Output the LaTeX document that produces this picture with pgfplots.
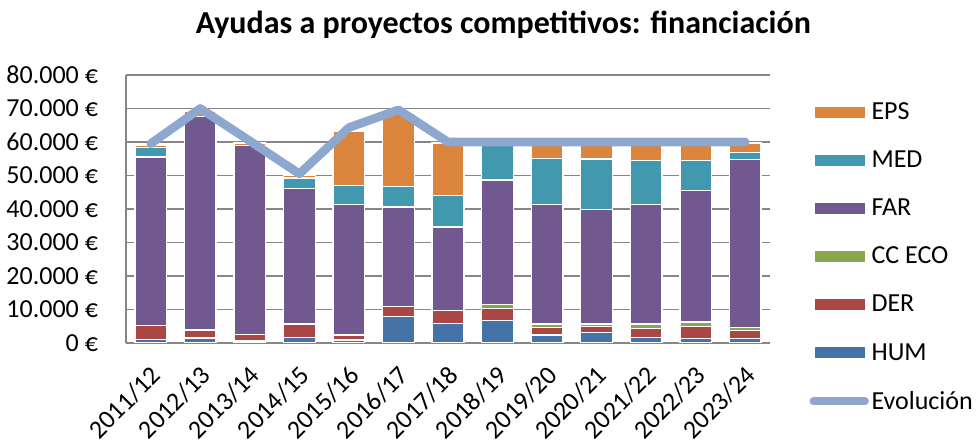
\documentclass[border=0pt]{standalone}
\usepackage{fontspec}
\setmainfont{Carlito}
\usepackage{pgfplots}
\usepackage{pgfplotstable}
\pgfplotsset{compat=1.18}
\definecolor{hum}{HTML}{4572A7}
\definecolor{der}{HTML}{AA4643}
\definecolor{cceco}{HTML}{89A54E}
\definecolor{far}{HTML}{71588F}
\definecolor{med}{HTML}{4198AF}
\definecolor{eps}{HTML}{DB843D}
\definecolor{evol}{HTML}{8EA7CE}
\definecolor{gridc}{HTML}{868686}
\pgfplotstableread{
x HUM DER CC FAR MED EPS
0 1000 4200 0 50300 2800 600
1 1500 2400 0 63800 0 1600
2 600 2000 0 56400 0 700
3 1700 4000 0 40500 3100 900
4 900 1500 0 38900 5700 16300
5 8000 2800 0 29800 6200 21900
6 5800 3900 0 24900 9400 15700
7 6700 3500 1300 37200 10600 200
8 2400 2300 1000 35600 13700 4800
9 3200 1700 800 34200 15000 4900
10 1700 2700 1300 35600 13200 5300
11 1400 3600 1300 39200 9000 5300
12 1400 2300 1000 50100 2100 2800
}\bars
\pgfplotstableread{
x EV
0 59500
1 70000
2 60300
3 50500
4 64300
5 69600
6 60000
7 60000
8 60000
9 60000
10 60000
11 60000
12 60000
}\evol
\begin{document}
\begin{tikzpicture}
\useasboundingbox (-94.5pt,-76.5pt) rectangle (637.5pt,257.25pt);
\pgfplotsset{
  common/.style={
    width=483pt, height=201pt, scale only axis,
    xmin=-0.5, xmax=12.5, ymin=0, ymax=80000,
  }
}
\begin{axis}[common,
  ybar stacked, bar width=0.64,
  axis x line*=bottom, axis y line*=left,
  axis line style={gridc, line width=1.1pt},
  ymajorgrids, major grid style={gridc, line width=1.1pt},
  scaled y ticks=false,
  ytick={0,10000,...,80000},
  yticklabels={0 €,10.000 €,20.000 €,30.000 €,40.000 €,50.000 €,60.000 €,70.000 €,80.000 €},
  xtick={0,...,12},
  xticklabels={2011/12,2012/13,2013/14,2014/15,2015/16,2016/17,2017/18,2018/19,2019/20,2020/21,2021/22,2022/23,2023/24},
  major tick length=0pt,
  tick label style={font=\fontsize{19.5}{23}\selectfont},
  yticklabel style={xshift=-17.5pt},
  xticklabel style={anchor=north east, xshift=-1pt, yshift=-11pt, rotate=45},
  title={\bfseries Ayudas a proyectos competitivos: financiación},
  title style={font=\fontsize{24}{28}\selectfont, at={(axis description cs:0.586,1)}, yshift=18pt, anchor=south},
  reverse legend,
  legend style={draw=none, fill=none, at={(axis description cs:1.061,0.907)}, anchor=north west,
    font=\fontsize{19.5}{23}\selectfont, row sep=18pt, inner sep=0pt, cells={anchor=west}},
  legend image code/.code={\path[#1,draw=none] (0pt,-4pt) rectangle (37.5pt,4pt);},
  every axis plot/.append style={draw=white, line width=1pt},
]
\addlegendimage{legend image code/.code={\draw[evol, line width=6pt, line cap=round] (-1pt,0pt) -- (37.5pt,0pt);}}
\addlegendentry{Evolución}
\addplot[fill=hum] table[x=x,y=HUM]{\bars}; \addlegendentry{HUM}
\addplot[fill=der] table[x=x,y=DER]{\bars}; \addlegendentry{DER}
\addplot[fill=cceco] table[x=x,y=CC]{\bars}; \addlegendentry{CC ECO}
\addplot[fill=far] table[x=x,y=FAR]{\bars}; \addlegendentry{FAR}
\addplot[fill=med] table[x=x,y=MED]{\bars}; \addlegendentry{MED}
\addplot[fill=eps] table[x=x,y=EPS]{\bars}; \addlegendentry{EPS}
\end{axis}
\begin{axis}[common, hide axis]
\addplot[evol, line width=6.5pt, line cap=round, line join=round, mark=none] table[x=x,y=EV]{\evol};
\end{axis}
\end{tikzpicture}
\end{document}
